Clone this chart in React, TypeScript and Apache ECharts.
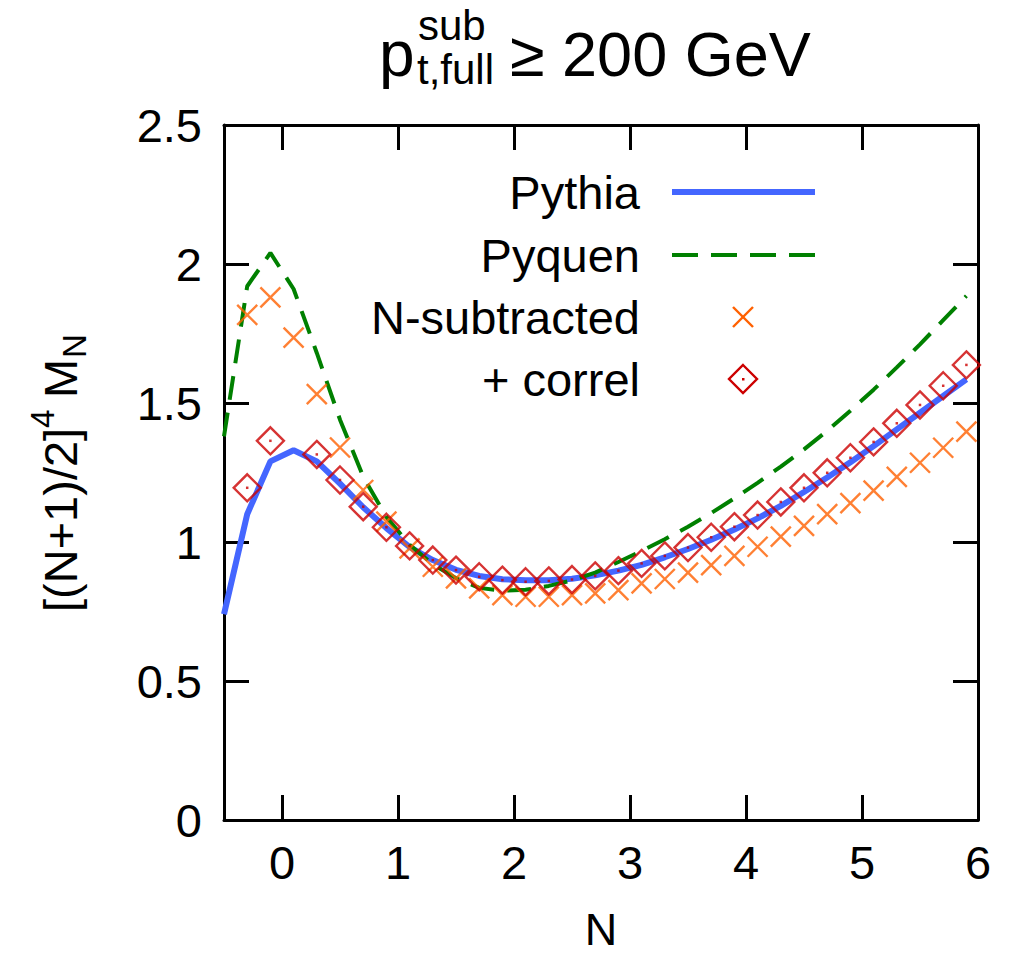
import React, { useEffect, useRef } from "react";
import * as echarts from "echarts";

const N = [-0.5, -0.3, -0.1, 0.1, 0.3, 0.5, 0.7, 0.9, 1.1, 1.3, 1.5, 1.7, 1.9, 2.1, 2.3, 2.5, 2.7, 2.9, 3.1, 3.3, 3.5, 3.7, 3.9, 4.1, 4.3, 4.5, 4.7, 4.9, 5.1, 5.3, 5.5, 5.7, 5.9];
const pythia = [0.74, 1.10, 1.29, 1.33, 1.29, 1.21, 1.125, 1.05, 0.982, 0.935, 0.9, 0.878, 0.866, 0.862, 0.862, 0.868, 0.88, 0.897, 0.918, 0.945, 0.975, 1.008, 1.045, 1.085, 1.13, 1.18, 1.232, 1.287, 1.345, 1.405, 1.465, 1.525, 1.585];
const pyquen = [1.38, 1.92, 2.04, 1.91, 1.68, 1.44, 1.235, 1.09, 0.99, 0.92, 0.87, 0.835, 0.825, 0.828, 0.842, 0.862, 0.89, 0.928, 0.968, 1.01, 1.055, 1.104, 1.157, 1.213, 1.271, 1.333, 1.40, 1.472, 1.548, 1.628, 1.711, 1.798, 1.885];
const nSubtracted = [null, 1.817, 1.88, 1.735, 1.532, 1.34, 1.187, 1.073, 0.977, 0.911, 0.869, 0.833, 0.809, 0.803, 0.803, 0.809, 0.815, 0.827, 0.851, 0.867, 0.89, 0.917, 0.95, 0.983, 1.019, 1.058, 1.1, 1.14, 1.185, 1.234, 1.285, 1.339, 1.397];
const correl = [null, 1.195, 1.364, null, 1.315, 1.223, 1.127, 1.053, 0.986, 0.935, 0.899, 0.875, 0.863, 0.857, 0.86, 0.865, 0.878, 0.897, 0.923, 0.95, 0.98, 1.017, 1.055, 1.097, 1.144, 1.195, 1.249, 1.303, 1.36, 1.427, 1.493, 1.562, 1.637];
const xTicks = [0, 1, 2, 3, 4, 5, 6];
const legendNames = ["Pythia", "Pyquen", "N-subtracted", "+ correl"];

const FONT = "'Liberation Sans', Arial, Helvetica, sans-serif";
const BLUE = "#4466ff";
const GREEN = "#008000";
const ORANGE = "#ff6000";
const RED = "#cc0000";

const pairs = (ys: (number | null)[]) =>
  N.map((x, i) => [x, ys[i]] as [number, number | null]).filter((p) => p[1] !== null);

export default function App() {
  const ref = useRef<HTMLDivElement>(null);
  useEffect(() => {
    if (!ref.current) return;
    const chart = echarts.init(ref.current, null, { renderer: "svg" });
    const axisLineStyle = { color: "#000", width: 3 };
    const tickStyle = { color: "#000", width: 3 };
    const lx = 640;
    const ly = [192, 255, 317, 379];
    const legendFont = 47;
    const tickFont = 47;
    const option: any = {
      animation: false,
      backgroundColor: "#fff",
      grid: { left: 224, right: 37, top: 125, bottom: 135, containLabel: false, outerBoundsMode: "none" },
      xAxis: [
        {
          type: "value", min: -0.5, max: 6, position: "bottom",
          axisLine: { show: true, onZero: false, lineStyle: axisLineStyle },
          axisTick: { show: true, inside: true, length: 25, lineStyle: tickStyle, customValues: xTicks },
          axisLabel: { show: true, customValues: xTicks, fontSize: tickFont, color: "#000", fontFamily: FONT, margin: 19 },
          splitLine: { show: false },
          name: "N", nameLocation: "middle", nameGap: 88,
          nameTextStyle: { fontSize: 45, lineHeight: 42, color: "#000", fontFamily: FONT },
        },
        {
          type: "value", min: -0.5, max: 6, position: "top",
          axisLine: { show: true, onZero: false, lineStyle: axisLineStyle },
          axisTick: { show: true, inside: true, length: 25, lineStyle: tickStyle, customValues: xTicks },
          axisLabel: { show: false },
          splitLine: { show: false },
        },
      ],
      yAxis: [
        {
          type: "value", min: 0, max: 2.5, interval: 0.5, position: "left",
          axisLine: { show: true, onZero: false, lineStyle: axisLineStyle },
          axisTick: { show: true, inside: true, length: 25, lineStyle: tickStyle },
          axisLabel: { show: true, fontSize: tickFont, color: "#000", fontFamily: FONT, margin: 22 },
          splitLine: { show: false },
        },
        {
          type: "value", min: 0, max: 2.5, interval: 0.5, position: "right",
          axisLine: { show: true, onZero: false, lineStyle: axisLineStyle },
          axisTick: { show: true, inside: true, length: 25, lineStyle: tickStyle },
          axisLabel: { show: false },
          splitLine: { show: false },
        },
      ],
      series: [
        {
          name: legendNames[0], type: "line", data: pairs(pythia), showSymbol: false,
          lineStyle: { color: BLUE, width: 6 }, z: 2, clip: true,
        },
        {
          name: legendNames[1], type: "line", data: pairs(pyquen), showSymbol: false,
          lineStyle: { color: GREEN, width: 4, type: [24, 13] }, z: 3, clip: true,
        },
        {
          name: legendNames[2], type: "scatter", data: pairs(nSubtracted),
          symbol: "path://M0,0L10,10M10,0L0,10", symbolSize: 20,
          itemStyle: { color: "transparent", borderColor: ORANGE, borderWidth: 2.4 }, z: 4,
        },
        {
          name: legendNames[3], type: "scatter", data: pairs(correl),
          symbol: "diamond", symbolSize: 27,
          itemStyle: { color: "transparent", borderColor: RED, borderWidth: 2.4 }, z: 5,
        },
        {
          name: legendNames[3] + " centre", type: "scatter", data: pairs(correl),
          symbol: "rect", symbolSize: 2.5,
          itemStyle: { color: RED }, z: 6,
        },
      ],
      graphic: [
        // title
        { type: "text", x: 379, y: 54, style: { text: "p", fontSize: 64, lineHeight: 60, fontFamily: FONT, fill: "#000", verticalAlign: "middle" } },
        { type: "text", x: 418, y: 25, style: { text: "sub", fontSize: 42, lineHeight: 40, fontFamily: FONT, fill: "#000", verticalAlign: "middle" } },
        { type: "text", x: 417, y: 69, style: { text: "t,full", fontSize: 42, lineHeight: 40, fontFamily: FONT, fill: "#000", verticalAlign: "middle" } },
        { type: "text", x: 510, y: 54, style: { text: "≥ 200 GeV", fontSize: 63, lineHeight: 60, fontFamily: FONT, fill: "#000", verticalAlign: "middle" } },
        // y axis name (rotated)
        {
          type: "group", x: 60, y: 472, rotation: Math.PI / 2,
          children: [
            { type: "text", x: -140, y: 0, style: { text: "[(N+1)/2]", fontSize: 47, fontFamily: FONT, fill: "#000", verticalAlign: "middle", align: "left" } },
            { type: "text", x: 44, y: -18, style: { text: "4", fontSize: 33, fontFamily: FONT, fill: "#000", verticalAlign: "middle", align: "left" } },
            { type: "text", x: 74, y: 0, style: { text: "M", fontSize: 47, fontFamily: FONT, fill: "#000", verticalAlign: "middle", align: "left" } },
            { type: "text", x: 114, y: 14, style: { text: "N", fontSize: 33, fontFamily: FONT, fill: "#000", verticalAlign: "middle", align: "left" } },
          ],
        },
        // legend
        ...legendNames.map((t, i) => ({
          type: "text", x: lx, y: ly[i],
          style: { text: t, fontSize: legendFont, fontFamily: FONT, fill: "#000", align: "right", verticalAlign: "middle" },
        })),
        { type: "line", shape: { x1: 672, y1: ly[0], x2: 815, y2: ly[0] }, style: { stroke: BLUE, lineWidth: 6 } },
        { type: "line", shape: { x1: 672, y1: ly[1], x2: 815, y2: ly[1] }, style: { stroke: GREEN, lineWidth: 4, lineDash: [26, 13] } },
        { type: "line", shape: { x1: 733, y1: ly[2] - 10, x2: 753, y2: ly[2] + 10 }, style: { stroke: ORANGE, lineWidth: 2.4 } },
        { type: "line", shape: { x1: 753, y1: ly[2] - 10, x2: 733, y2: ly[2] + 10 }, style: { stroke: ORANGE, lineWidth: 2.4 } },
        {
          type: "polygon",
          shape: { points: [[743, ly[3] - 14], [757, ly[3]], [743, ly[3] + 14], [729, ly[3]]] },
          style: { fill: "none", stroke: RED, lineWidth: 2.4 },
        },
        { type: "rect", shape: { x: 742, y: ly[3] - 1, width: 2.5, height: 2.5 }, style: { fill: RED } },
      ],
    };
    chart.setOption(option);
    return () => chart.dispose();
  }, []);
  return (
    <div
      ref={ref}
      style={{ position: "fixed", left: 0, top: 0, width: 1015, height: 955, background: "#fff" }}
    />
  );
}
